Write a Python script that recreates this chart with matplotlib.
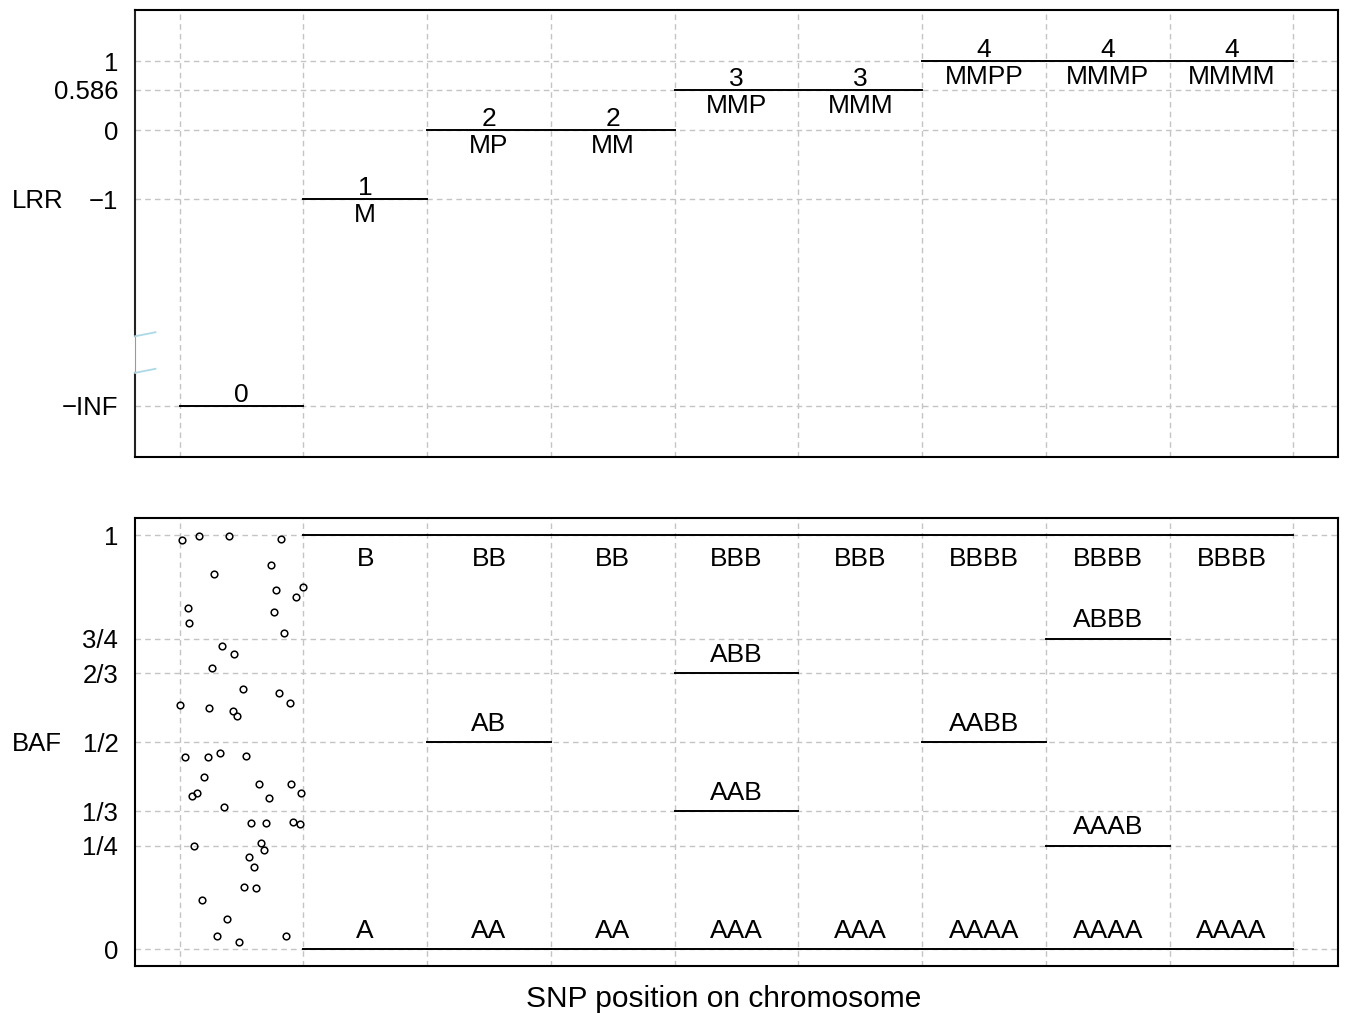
import matplotlib
matplotlib.use("Agg")
import matplotlib.pyplot as plt
import matplotlib.transforms as mtransforms

plt.rcParams["font.family"] = ["Liberation Sans", "DejaVu Sans"]

# -------------------------------------------------
# data
# -------------------------------------------------
# LRR panel: one segment per state, x = state index .. index+1
lrr_copy_number = ["0", "1", "2", "2", "3", "3", "4", "4", "4"]
lrr_genotype = ["", "M", "MP", "MM", "MMP", "MMM", "MMPP", "MMMP", "MMMM"]
lrr_value = [-4, -1, 0, 0, 0.586, 0.586, 1, 1, 1]   # -4 stands for -INF
lrr_ticks = [-4, -1, 0, 0.586, 1]
lrr_ticklabels = ["\u2212INF", "\u22121", "0", "0.586", "1"]

# BAF panel: states 1..8, each with its BAF levels and genotypes
baf_levels = [
    [0, 1],
    [0, 1 / 2, 1],
    [0, 1],
    [0, 1 / 3, 2 / 3, 1],
    [0, 1],
    [0, 1 / 2, 1],
    [0, 1 / 4, 3 / 4, 1],
    [0, 1],
]
baf_genotypes = [
    ["A", "B"],
    ["AA", "AB", "BB"],
    ["AA", "BB"],
    ["AAA", "AAB", "ABB", "BBB"],
    ["AAA", "BBB"],
    ["AAAA", "AABB", "BBBB"],
    ["AAAA", "AAAB", "ABBB", "BBBB"],
    ["AAAA", "BBBB"],
]
baf_ticks = [0, 1 / 4, 1 / 3, 1 / 2, 2 / 3, 3 / 4, 1]
baf_ticklabels = ["0", "1/4", "1/3", "1/2", "2/3", "3/4", "1"]

# BAF of the zero-copy state (random-looking noise)
noise_x = [0.02, 0.16, 0.40, 0.82, 0.28, 0.74, 0.78, 1.00, 0.94, 0.07,
           0.76, 0.08, 0.84, 0.34, 0.44, 0.26, 0.51, 0.80, 0.89, 0.00,
           0.24, 0.43, 0.46,
           0.04, 0.23, 0.33, 0.54, 0.20, 0.64, 0.90, 0.10, 0.14, 0.98,
           0.72, 0.36, 0.58, 0.70, 0.92, 0.97, 0.12, 0.66, 0.68, 0.56,
           0.60, 0.52, 0.62, 0.18, 0.38, 0.30, 0.48, 0.86]
noise_y = [0.988, 0.998, 0.998, 0.990, 0.906, 0.927, 0.867, 0.874, 0.850, 0.823,
           0.814, 0.787, 0.764, 0.732, 0.713, 0.679, 0.628, 0.618, 0.595, 0.590,
           0.581, 0.576, 0.564,
           0.464, 0.464, 0.474, 0.466, 0.416, 0.398, 0.398, 0.370, 0.377, 0.378,
           0.364, 0.344, 0.305, 0.304, 0.306, 0.302, 0.250, 0.256, 0.240, 0.223,
           0.197, 0.150, 0.147, 0.118, 0.072, 0.031, 0.017, 0.032]

# -------------------------------------------------
# figure
# -------------------------------------------------
fig = plt.figure(figsize=(13.45, 10.13), dpi=100)
ax1 = fig.add_axes([0.1004, 0.5489, 0.8944, 0.4412])
ax2 = fig.add_axes([0.1004, 0.0464, 0.8944, 0.4422])

FS = 18.5      # tick labels / side labels
FS_SEG = 19    # labels on the segments
grid_kw = dict(color="#c4c4c4", linestyle=(0, (4, 3)), linewidth=1.0)

for ax in (ax1, ax2):
    ax.set_xlim(-0.36, 9.36)
    ax.set_xticks(range(10))
    ax.set_xticklabels([])
    ax.tick_params(length=0, pad=12, labelsize=FS)
    ax.grid(True, **grid_kw)
    ax.set_axisbelow(True)
    for sp in ax.spines.values():
        sp.set_linewidth(1.5)

# --- LRR ---
ax1.set_ylim(-4.74, 1.74)
ax1.set_yticks(lrr_ticks)
ax1.set_yticklabels(lrr_ticklabels)
for i, (cn, gt, v) in enumerate(zip(lrr_copy_number, lrr_genotype, lrr_value)):
    ax1.plot([i, i + 1], [v, v], color="black", lw=1.4)
    ax1.annotate(cn, (i + 0.5, v), xytext=(0, 8), textcoords="offset points",
                 ha="center", va="center", fontsize=FS_SEG)
    if gt:
        ax1.annotate(gt, (i + 0.5, v), xytext=(0, -11.5), textcoords="offset points",
                     ha="center", va="center", fontsize=FS_SEG)

# axis break on the left spine
ax1.spines["left"].set_visible(False)
trans = mtransforms.blended_transform_factory(ax1.transAxes, ax1.transData)
ax1.plot([0, 0], [-4.74, -3.52], color="#222222", lw=1.5, transform=trans, clip_on=False)
ax1.plot([0, 0], [-2.99, 1.74], color="#222222", lw=1.5, transform=trans, clip_on=False)
ax1.plot([0, 0], [-3.52, -2.99], color="#999999", lw=0.8, transform=trans, clip_on=False)
for yb in (-2.99, -3.52):
    ax1.plot([0, 0.017], [yb, yb + 0.058], color="lightblue", lw=1.3,
             transform=trans, clip_on=False)

# --- BAF ---
ax2.set_ylim(-0.041, 1.041)
ax2.set_yticks(baf_ticks)
ax2.set_yticklabels(baf_ticklabels)
ax2.plot(noise_x, noise_y, linestyle="none", marker="o", ms=4.8,
         mfc="none", mec="black", mew=1.1)
for k, (levels, gts) in enumerate(zip(baf_levels, baf_genotypes)):
    i = k + 1
    for v, gt in zip(levels, gts):
        ax2.plot([i, i + 1], [v, v], color="black", lw=1.4)
        off = -17 if v == 1 else 13
        ax2.annotate(gt, (i + 0.5, v), xytext=(0, off), textcoords="offset points",
                     ha="center", va="center", fontsize=FS_SEG)

fig.text(12 / 1345, 1 - 201 / 1013, "LRR", ha="left", va="center", fontsize=FS)
fig.text(12 / 1345, 1 - 744 / 1013, "BAF", ha="left", va="center", fontsize=FS)
fig.text(724 / 1345, 1 - 999 / 1013, "SNP position on chromosome",
         ha="center", va="center", fontsize=21.5)

fig.savefig("out.png", dpi=100)
